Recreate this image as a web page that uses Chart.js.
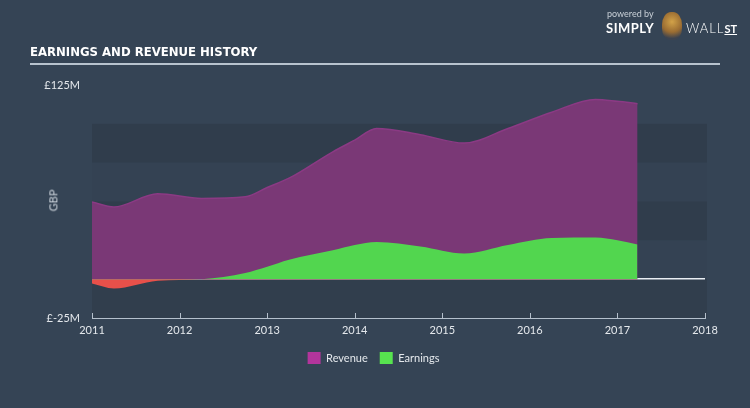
<!DOCTYPE html>
<html>
<head>
<meta charset="utf-8">
<script src="https://cdn.jsdelivr.net/npm/chart.js@4"></script>
<style>
  html, body { margin: 0; padding: 0; }
  body { width: 750px; height: 408px; background: #354455; position: relative; overflow: hidden; font-family: Lato, "Open Sans", sans-serif; }
  #chartBox { position: absolute; left: 0; top: 0; width: 750px; height: 408px; }
  .title { position: absolute; left: 30px; top: 44px; color: #fff; font-family: "Liberation Sans Narrow", "DejaVu Sans Condensed", sans-serif; font-stretch: condensed; font-weight: bold; font-size: 13px; letter-spacing: 0; }
  .rule { position: absolute; left: 30px; top: 63px; width: 690px; height: 1.5px; background: #b8c3ce; }
  .gbp { position: absolute; left: 42px; top: 194px; color: #c8d0d8; font-size: 11px; transform: rotate(-90deg); }
  .logo { position: absolute; left: 606px; top: 8px; color: #fff; }
  .logo .pw { font-size: 9px; color: #c9d0d7; position: absolute; left: 1px; top: 0; white-space: nowrap; }
  .logo .simply { position: absolute; left: 0; top: 12px; font-size: 13px; font-weight: bold; letter-spacing: 0.5px; }
  .logo .mascot { position: absolute; left: 56px; top: 4px; width: 20px; height: 28px; border-radius: 45% 45% 40% 40%; background: radial-gradient(circle at 50% 35%, #d2a248 0, #9a6c32 50%, #3c4350 80%); }
  .logo .wall { position: absolute; left: 80px; top: 12px; font-size: 13px; font-weight: 300; letter-spacing: 1px; white-space: nowrap; }
  .logo .st { font-weight: bold; font-size: 11px; text-decoration: underline; letter-spacing: 0; }
</style>
</head>
<body>
<div id="chartBox"><canvas id="historyChart" width="750" height="408"></canvas></div>
<div class="title">EARNINGS AND REVENUE HISTORY</div>
<div class="rule"></div>
<div class="gbp">GBP</div>
<div class="logo">
  <span class="pw">powered by</span>
  <span class="simply">SIMPLY</span>
  <span class="mascot"></span>
  <span class="wall">WALL<span class="st">ST</span></span>
</div>
<script>
// reporting dates (fractional years) and values in £M
const periods = [2011.0, 2011.25, 2011.75, 2012.25, 2012.75, 2013.0, 2013.25, 2013.75, 2014.0, 2014.25, 2014.75, 2015.25, 2015.75, 2016.25, 2016.75, 2017.0, 2017.23];
const revenue = [49.7, 46.5, 55, 52, 53, 59, 65, 82, 89.5, 97, 93, 87.6, 97, 107.5, 115.7, 114.5, 113];
const earnings = [-2.8, -6, -1, 0, 4, 8, 12.5, 18.6, 22, 24, 21, 16.5, 22, 26.5, 26.8, 25, 22.3];
const yearTicks = [2011, 2012, 2013, 2014, 2015, 2016, 2017, 2018];

const toPoints = vals => vals.map((v, i) => ({ x: periods[i], y: v }));

// banded background + small upward ticks on the x axis
const bandsPlugin = {
    id: 'bands',
    beforeDraw(chart) {
        const { ctx, chartArea, scales } = chart;
        const y = scales.y;
        const bands = [
            [100, 75, '#303d4c'],
            [75, 50, '#344253'],
            [50, 25, '#303d4c'],
            [25, 0, '#344253'],
            [0, -25, '#313e4d']
        ];
        ctx.save();
        bands.forEach(b => {
            const top = y.getPixelForValue(b[0]);
            const bot = y.getPixelForValue(b[1]);
            ctx.fillStyle = b[2];
            ctx.fillRect(chartArea.left, top, chartArea.right - chartArea.left + 2, bot - top);
        });
        ctx.restore();
    },
    afterDraw(chart) {
        const { ctx, chartArea, scales } = chart;
        ctx.save();
        ctx.strokeStyle = '#b5c0cc';
        ctx.lineWidth = 1;
        yearTicks.forEach(t => {
            const px = Math.round(scales.x.getPixelForValue(t)) + 0.5;
            ctx.beginPath();
            ctx.moveTo(px, chartArea.bottom - 5);
            ctx.lineTo(px, chartArea.bottom);
            ctx.stroke();
        });
        ctx.restore();
    }
};

const ctxHistory = document.getElementById('historyChart').getContext('2d');

new Chart(ctxHistory, {
    type: 'line',
    data: {
        datasets: [{
            label: 'Revenue',
            data: toPoints(revenue),
            borderColor: '#8b3a84',
            backgroundColor: '#7a3876',
            borderWidth: 1.5,
            pointRadius: 0,
            cubicInterpolationMode: 'monotone',
            fill: 'origin',
            order: 2
        }, {
            label: 'Earnings',
            data: toPoints(earnings),
            borderColor: 'rgba(0,0,0,0)',
            borderWidth: 0,
            pointRadius: 0,
            cubicInterpolationMode: 'monotone',
            fill: { target: 'origin', above: '#52d64f', below: '#e8504a' },
            order: 1
        }]
    },
    options: {
        responsive: false,
        animation: false,
        layout: { padding: { left: 42, right: 45, top: 85, bottom: 34 } },
        plugins: {
            tooltip: { enabled: false },
            legend: {
                position: 'bottom',
                labels: {
                    color: '#e4e8ec',
                    font: { family: 'Lato', size: 11 },
                    boxWidth: 13,
                    boxHeight: 12,
                    padding: 12,
                    generateLabels: () => [
                        { text: 'Revenue', fillStyle: '#b3359c', strokeStyle: '#b3359c', lineWidth: 0, fontColor: '#e4e8ec', datasetIndex: 0 },
                        { text: 'Earnings', fillStyle: '#57e34f', strokeStyle: '#57e34f', lineWidth: 0, fontColor: '#e4e8ec', datasetIndex: 1 }
                    ]
                }
            }
        },
        scales: {
            x: {
                type: 'linear',
                min: 2011,
                max: 2018,
                afterFit: s => { s.height = 22; },
                afterBuildTicks: s => { s.ticks = yearTicks.map(v => ({ value: v })); },
                ticks: {
                    color: '#e4e8ec',
                    font: { family: 'Lato', size: 11 },
                    padding: 6,
                    maxRotation: 0,
                    autoSkip: false,
                    callback: v => String(v)
                },
                grid: { display: false, drawTicks: false },
                border: { display: true, color: '#b5c0cc', width: 1 }
            },
            y: {
                min: -25,
                max: 125,
                afterFit: s => { s.width = 50; },
                ticks: {
                    stepSize: 25,
                    autoSkip: false,
                    color: '#e4e8ec',
                    font: { family: 'Lato', size: 11 },
                    padding: 12,
                    callback: v => v === 125 ? '£125M' : (v === -25 ? '£-25M' : '')
                },
                grid: {
                    drawTicks: false,
                    color: c => c.tick && c.tick.value === 0 ? '#e9eef3' : 'rgba(0,0,0,0)',
                    lineWidth: c => c.tick && c.tick.value === 0 ? 1.5 : 0
                },
                border: { display: false }
            }
        }
    },
    plugins: [bandsPlugin]
});
</script>
</body>
</html>
